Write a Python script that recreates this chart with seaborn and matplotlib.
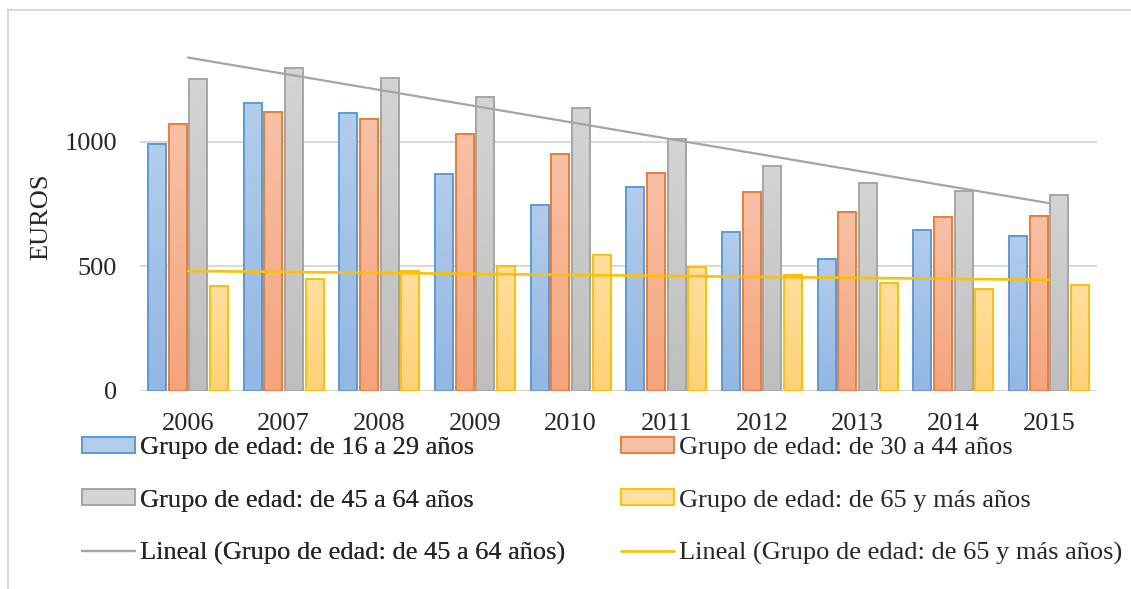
import numpy as np
import pandas as pd
import seaborn as sns
import matplotlib.pyplot as plt
from matplotlib.patches import Rectangle, Patch
from matplotlib.lines import Line2D
from matplotlib.colors import LinearSegmentedColormap

years = ["2006", "2007", "2008", "2009", "2010", "2011", "2012", "2013", "2014", "2015"]
groups = [
    "Grupo de edad: de 16 a 29 años",
    "Grupo de edad: de 30 a 44 años",
    "Grupo de edad: de 45 a 64 años",
    "Grupo de edad: de 65 y más años",
]
g16_29 = [992, 1157, 1115, 873, 745, 819, 639, 530, 645, 622]
g30_44 = [1074, 1121, 1094, 1033, 952, 877, 798, 719, 700, 703]
g45_64 = [1252, 1298, 1259, 1180, 1138, 1013, 905, 835, 802, 786]
g65 = [422, 450, 482, 503, 546, 499, 466, 433, 410, 425]
trend_labels = [
    "Lineal (Grupo de edad: de 45 a 64 años)",
    "Lineal (Grupo de edad: de 65 y más años)",
]

edge_colors = ["#5B9BD5", "#ED7D31", "#A5A5A5", "#FFC000"]
top_colors = ["#B2CCEB", "#F7C1A6", "#D4D4D4", "#FFDF9E"]
bottom_colors = ["#93B6E2", "#F4A47D", "#BEBEBE", "#FDD178"]

df = pd.DataFrame({
    "year": years * 4,
    "group": np.repeat(groups, len(years)),
    "value": g16_29 + g30_44 + g45_64 + g65,
})

sns.set_theme(style="white")
plt.rcParams["font.family"] = ["Liberation Serif", "DejaVu Serif"]
FS = 19

W, H = 1131, 589
fig = plt.figure(figsize=(W / 100, H / 100), dpi=100)
ax = fig.add_axes([140 / W, 1 - 390.7 / H, 957 / W, (390.7 - 42.5) / H])

sns.barplot(data=df, x="year", y="value", hue="group", palette=top_colors,
            width=0.865, gap=0.13, saturation=1, ax=ax, legend=False, zorder=3)

# gradient fill + edge per series
for i, cont in enumerate(ax.containers):
    cmap = LinearSegmentedColormap.from_list("g%d" % i, [bottom_colors[i], top_colors[i]])
    for bar in cont:
        x0, y0 = bar.get_x(), bar.get_y()
        w, h = bar.get_width(), bar.get_height()
        grad = np.linspace(0, 1, 100).reshape(-1, 1)
        im = ax.imshow(grad, cmap=cmap, origin="lower", aspect="auto",
                       extent=[x0, x0 + w, y0, y0 + h], zorder=3)
        im.set_clip_path(bar)
        bar.set_facecolor("none")
        bar.set_edgecolor(edge_colors[i])
        bar.set_linewidth(1.4)
        bar.set_zorder(4)

# linear trend lines
xs = np.arange(len(years))
for vals, col, lw in [(g45_64, "#A5A5A5", 1.6), (g65, "#FFC000", 1.9)]:
    k, b = np.polyfit(xs, vals, 1)
    ax.plot(xs, k * xs + b, color=col, lw=lw, zorder=5)

ax.set_xlim(-0.5, len(years) - 0.5)
ax.set_ylim(0, 1400)
ax.set_yticks([0, 500, 1000])
ax.grid(axis="y", color="#D9D9D9", lw=1.5, zorder=0)
ax.grid(axis="x", visible=False)
for s in ax.spines.values():
    s.set_visible(False)
ax.tick_params(axis="y", length=0, pad=16.5, labelsize=FS)
ax.tick_params(axis="x", length=0, pad=16, labelsize=FS)
ax.set_xlabel("")
ax.set_ylabel("")
fig.text(41.7 / W, 1 - 216.6 / H, "EUROS", rotation=90, ha="center", va="center", fontsize=FS)

# legends (two columns)
bar_handles = [Patch(facecolor=top_colors[i], edgecolor=edge_colors[i], lw=1.4) for i in range(4)]
line_handles = [Line2D([], [], color="#A5A5A5", lw=1.6), Line2D([], [], color="#FFC000", lw=1.9)]
leg_kw = dict(frameon=False, loc="upper left", borderpad=0, borderaxespad=0,
              handlelength=2.0, handleheight=0.55, handletextpad=0.2,
              labelspacing=1.14, fontsize=FS)
leg1 = fig.legend([bar_handles[0], bar_handles[2], line_handles[0]],
                  [groups[0], groups[2], trend_labels[0]],
                  bbox_to_anchor=(82 / W, 1 - 437 / H), **leg_kw)
fig.add_artist(leg1)
fig.legend([bar_handles[1], bar_handles[3], line_handles[1]],
           [groups[1], groups[3], trend_labels[1]],
           bbox_to_anchor=(621 / W, 1 - 437 / H), **leg_kw)

fig.add_artist(Rectangle((8 / W, -0.1), 1.2, 1.1 - 10.5 / H, transform=fig.transFigure,
                         fill=False, edgecolor="#D9D9D9", lw=1.5))

fig.savefig("out.png", dpi=100)
